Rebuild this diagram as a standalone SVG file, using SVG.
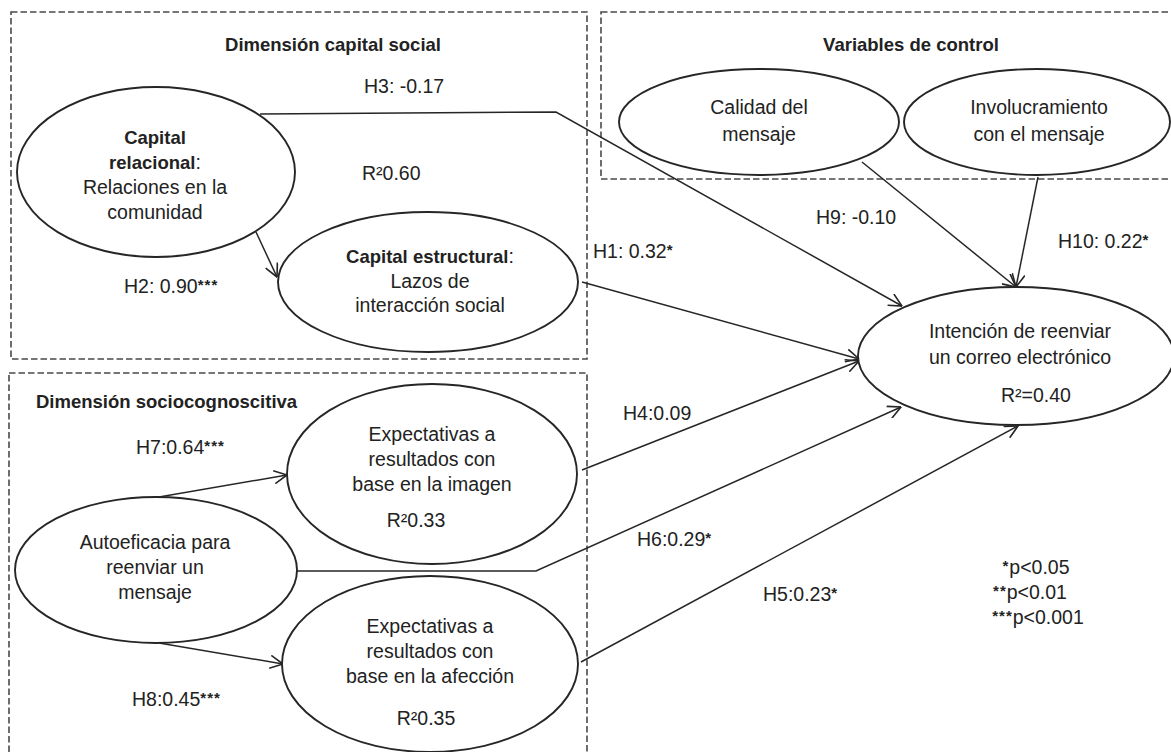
<svg xmlns="http://www.w3.org/2000/svg" width="1171" height="752" viewBox="0 0 1171 752">
  <defs>
    <style>
      .box { fill: none; stroke: #4a4a4a; stroke-width: 1.6; stroke-dasharray: 6.5 3; }
      .node { fill: #fff; stroke: #262626; stroke-width: 1.9; }
      .edge { fill: none; stroke: #262626; stroke-width: 1.5; marker-end: url(#arrow); }
      text { font-family: "Liberation Sans", Arial, sans-serif; font-size: 19.5px; fill: #222; }
      .c { text-anchor: middle; }
      .b { font-weight: bold; font-size: 18.5px; }
      .sup { font-size: 15px; font-weight: bold; letter-spacing: 1px; }
    </style>
    <marker id="arrow" viewBox="0 0 13 13" refX="12.5" refY="6.5" markerWidth="14" markerHeight="14" markerUnits="userSpaceOnUse" orient="auto">
      <path d="M0.5,0.5 L12.5,6.5 L0.5,12.5" fill="none" stroke="#262626" stroke-width="1.5"/>
    </marker>
  </defs>

  <rect width="1171" height="752" fill="#fff"/>

  <!-- grouping frames -->
  <g id="frames">
    <rect class="box" x="11" y="12" width="576" height="347"/>
    <rect class="box" x="601" y="12" width="580" height="167"/>
    <rect class="box" x="9" y="373" width="578" height="400"/>
    <text class="b c" x="333" y="51">Dimensión capital social</text>
    <text class="b c" x="911" y="51">Variables de control</text>
    <text class="b" x="36" y="408">Dimensión sociocognoscitiva</text>
  </g>

  <!-- paths between constructs -->
  <g id="connectors">
    <polyline class="edge" points="260,114 556,112 902,306"/>
    <line class="edge" x1="256" y1="232" x2="277" y2="277"/>
    <line class="edge" x1="582" y1="282" x2="859" y2="359"/>
    <line class="edge" x1="862" y1="162" x2="1016" y2="287"/>
    <line class="edge" x1="1038" y1="177" x2="1016" y2="287"/>
    <line class="edge" x1="582" y1="470" x2="859" y2="361"/>
    <polyline class="edge" points="297,571 536,571 901,407"/>
    <line class="edge" x1="581" y1="662" x2="1018" y2="426"/>
    <line class="edge" x1="159" y1="497" x2="287" y2="475"/>
    <line class="edge" x1="159" y1="643" x2="283" y2="664"/>
  </g>

  <g id="capital-relacional">
    <ellipse class="node" cx="156" cy="172" rx="139" ry="85"/>
    <text class="c b" x="155" y="144">Capital</text>
    <text class="c" x="155" y="169"><tspan class="b">relacional</tspan>:</text>
    <text class="c" x="155" y="194">Relaciones en la</text>
    <text class="c" x="155" y="219">comunidad</text>
  </g>

  <g id="capital-estructural">
    <ellipse class="node" cx="428" cy="282" rx="150" ry="70"/>
    <text class="c" x="430" y="263"><tspan class="b">Capital estructural</tspan>:</text>
    <text class="c" x="430" y="288">Lazos de</text>
    <text class="c" x="430" y="312">interacción social</text>
  </g>

  <g id="calidad">
    <ellipse class="node" cx="759" cy="122" rx="140" ry="53"/>
    <text class="c" x="759" y="114">Calidad del</text>
    <text class="c" x="759" y="141">mensaje</text>
  </g>

  <g id="involucramiento">
    <ellipse class="node" cx="1037" cy="122" rx="133" ry="53"/>
    <text class="c" x="1039" y="114">Involucramiento</text>
    <text class="c" x="1039" y="141">con el mensaje</text>
  </g>

  <g id="intencion">
    <ellipse class="node" cx="1016" cy="356" rx="158" ry="69"/>
    <text class="c" x="1020" y="338">Intención de reenviar</text>
    <text class="c" x="1020" y="364">un correo electrónico</text>
    <text class="c" x="1036" y="402">R²=0.40</text>
  </g>

  <g id="expectativas-imagen">
    <ellipse class="node" cx="432" cy="474" rx="145" ry="90"/>
    <text class="c" x="432" y="441">Expectativas a</text>
    <text class="c" x="432" y="466">resultados con</text>
    <text class="c" x="432" y="491">base en la imagen</text>
    <text class="c" x="416" y="527">R²0.33</text>
  </g>

  <g id="autoeficacia">
    <ellipse class="node" cx="156" cy="570" rx="141" ry="73"/>
    <text class="c" x="155" y="549">Autoeficacia para</text>
    <text class="c" x="155" y="574">reenviar un</text>
    <text class="c" x="155" y="599">mensaje</text>
  </g>

  <g id="expectativas-afeccion">
    <ellipse class="node" cx="430" cy="664" rx="148" ry="88"/>
    <text class="c" x="430" y="633">Expectativas a</text>
    <text class="c" x="430" y="658">resultados con</text>
    <text class="c" x="430" y="683">base en la afección</text>
    <text class="c" x="426" y="725">R²0.35</text>
  </g>

  <!-- path coefficients -->
  <g id="labels">
    <text x="364" y="93">H3: -0.17</text>
    <text x="362" y="180">R²0.60</text>
    <text x="124" y="293">H2: 0.90<tspan class="sup" dy="-3">***</tspan></text>
    <text x="593" y="258">H1: 0.32<tspan class="sup" dy="-3">*</tspan></text>
    <text x="816" y="224">H9: -0.10</text>
    <text x="1058" y="248">H10: 0.22<tspan class="sup" dy="-3">*</tspan></text>
    <text x="136" y="454">H7:0.64<tspan class="sup" dy="-3">***</tspan></text>
    <text x="623" y="420">H4:0.09</text>
    <text x="637" y="546">H6:0.29<tspan class="sup" dy="-3">*</tspan></text>
    <text x="763" y="601">H5:0.23<tspan class="sup" dy="-3">*</tspan></text>
    <text x="132" y="706">H8:0.45<tspan class="sup" dy="-3">***</tspan></text>
  </g>

  <g id="legend">
    <text class="c" x="1036" y="574"><tspan class="sup" dy="-3">*</tspan><tspan dy="3">p&lt;0.05</tspan></text>
    <text class="c" x="1030" y="599"><tspan class="sup" dy="-3">**</tspan><tspan dy="3">p&lt;0.01</tspan></text>
    <text class="c" x="1038" y="624"><tspan class="sup" dy="-3">***</tspan><tspan dy="3">p&lt;0.001</tspan></text>
  </g>
</svg>
